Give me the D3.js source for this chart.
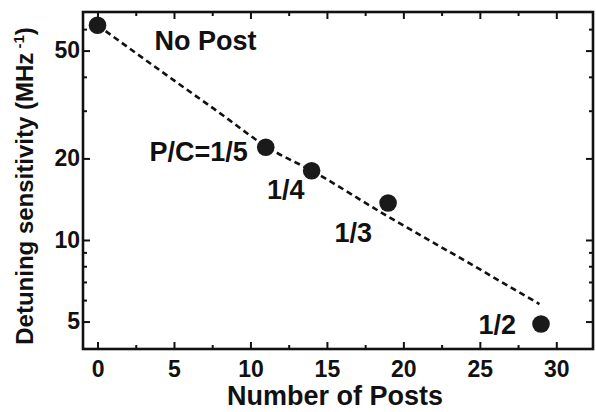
<!DOCTYPE html>
<html>
<head>
<meta charset="utf-8">
<script src="https://cdn.jsdelivr.net/npm/d3@7"></script>
<style>
  html, body { margin: 0; padding: 0; background: #ffffff; }
  svg { display: block; }
  text { font-family: "Liberation Sans", Arial, Helvetica, sans-serif; font-weight: bold; fill: #111; }
</style>
</head>
<body>
<svg id="chart" width="596" height="412"></svg>
<script>
// ---- data ----
const posts        = [0, 11, 14, 19, 29];
const sensitivity  = [62, 22, 18, 13.7, 4.9];
const pointLabels  = ["No Post", "P/C=1/5", "1/4", "1/3", "1/2"];

const fitPosts = [0, 5, 8, 11.1, 14.1, 19, 24, 28.9];
const fitSens  = [62, 38.8, 29.4, 22, 17.9, 12.2, 8.4, 5.8];

const xMajorTicks = [0, 5, 10, 15, 20, 25, 30];
const xMinorTicks = [2.5, 7.5, 12.5, 17.5, 22.5, 27.5];
const yMajorTicks = [5, 10, 20, 50];
const yMinorTicks = [6, 7, 8, 9, 30, 40, 60];

const xTitle = "Number of Posts";
const yTitle = "Detuning sensitivity  (MHz";
const yTitleSup = " -1";

// ---- layout ----
const L = 83, R = 593, T = 12, B = 349;
const svg = d3.select("#chart");

const x = d3.scaleLinear().domain([-0.95, 32.4]).range([L, R]);
const y = d3.scaleLog().domain([3.96, 69.4]).range([B, T]);

const ink = "#111";

// axes (ticks pointing inward)
function styleAxis(g) {
  g.select(".domain").remove();
  g.selectAll("line").attr("stroke", ink).attr("stroke-width", 2);
  g.selectAll("text").attr("font-size", 23).attr("fill", ink)
    .style("font-family", '"Liberation Sans", Arial, sans-serif').style("font-weight", "bold");
}

svg.append("g").attr("transform", `translate(0,${B})`)
  .call(d3.axisBottom(x).tickValues(xMajorTicks).tickSize(-7).tickPadding(12).tickFormat(d3.format("d")))
  .call(styleAxis);
svg.append("g").attr("transform", `translate(0,${B})`)
  .call(d3.axisBottom(x).tickValues(xMinorTicks).tickSize(-4).tickFormat(""))
  .call(styleAxis);
svg.append("g").attr("transform", `translate(0,${T})`)
  .call(d3.axisTop(x).tickValues(xMajorTicks).tickSize(-7).tickFormat(""))
  .call(styleAxis);
svg.append("g").attr("transform", `translate(0,${T})`)
  .call(d3.axisTop(x).tickValues(xMinorTicks).tickSize(-4).tickFormat(""))
  .call(styleAxis);

svg.append("g").attr("transform", `translate(${L},0)`)
  .call(d3.axisLeft(y).tickValues(yMajorTicks).tickSize(-7).tickPadding(3).tickFormat(d3.format("d")))
  .call(styleAxis);
svg.append("g").attr("transform", `translate(${L},0)`)
  .call(d3.axisLeft(y).tickValues(yMinorTicks).tickSize(-4).tickFormat(""))
  .call(styleAxis);
svg.append("g").attr("transform", `translate(${R},0)`)
  .call(d3.axisRight(y).tickValues(yMajorTicks).tickSize(-7).tickFormat(""))
  .call(styleAxis);
svg.append("g").attr("transform", `translate(${R},0)`)
  .call(d3.axisRight(y).tickValues(yMinorTicks).tickSize(-4).tickFormat(""))
  .call(styleAxis);

// frame
svg.append("rect")
  .attr("x", L).attr("y", T).attr("width", R - L).attr("height", B - T)
  .attr("fill", "none").attr("stroke", ink).attr("stroke-width", 2.6);

// dashed fit line
const fitData = fitPosts.map((p, i) => ({ p, s: fitSens[i] }));
svg.append("path")
  .datum(fitData)
  .attr("fill", "none")
  .attr("stroke", ink)
  .attr("stroke-width", 2.6)
  .attr("stroke-dasharray", "6,4")
  .attr("d", d3.line().x(d => x(d.p)).y(d => y(d.s)).curve(d3.curveMonotoneX));

// points
const pts = posts.map((p, i) => ({ p, s: sensitivity[i], label: pointLabels[i] }));
svg.append("g").selectAll("circle").data(pts).join("circle")
  .attr("cx", d => x(d.p)).attr("cy", d => y(d.s)).attr("r", 8.8)
  .attr("fill", "#1a1a1a");

// point labels (offsets relative to each point)
const labelOffsets = [
  { dx: 57, dy: 25, anchor: "start" },
  { dx: -18, dy: 14, anchor: "end" },
  { dx: -7, dy: 28, anchor: "end" },
  { dx: -16, dy: 39, anchor: "end" },
  { dx: -25, dy: 10, anchor: "end" }
];
svg.append("g").selectAll("text").data(pts).join("text")
  .attr("x", (d, i) => x(d.p) + labelOffsets[i].dx)
  .attr("y", (d, i) => y(d.s) + labelOffsets[i].dy)
  .attr("text-anchor", (d, i) => labelOffsets[i].anchor)
  .attr("font-size", 27)
  .text(d => d.label);

// axis titles
svg.append("text")
  .attr("x", (L + R) / 2 - 3).attr("y", 405)
  .attr("text-anchor", "middle")
  .attr("font-size", 27)
  .text(xTitle);

const yt = svg.append("text")
  .attr("transform", `translate(33,186) rotate(-90)`)
  .attr("text-anchor", "middle")
  .attr("font-size", 24);
yt.append("tspan").text(yTitle);
yt.append("tspan").attr("font-size", 15).attr("dy", -9).text(yTitleSup);
yt.append("tspan").attr("dy", 9).text(")");
</script>
</body>
</html>
